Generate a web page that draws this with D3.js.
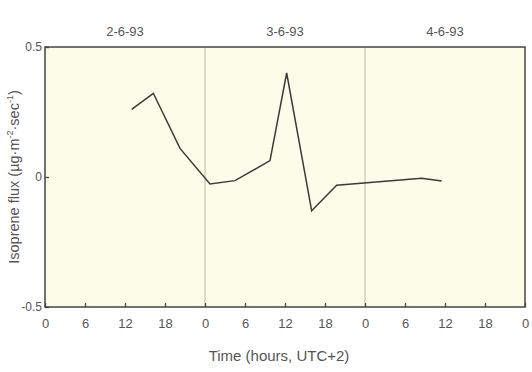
<!DOCTYPE html>
<html>
<head>
<meta charset="utf-8">
<script src="https://cdn.jsdelivr.net/npm/d3@7"></script>
<style>
  body { margin: 0; background: #fff; }
  svg text { font-family: "Liberation Sans", Arial, sans-serif; fill: #555; }
</style>
</head>
<body>
<div id="chart"></div>
<script>
// chart data
var hours = [13, 16.25, 20.25, 24.75, 28.5, 33.75, 36.25, 40, 43.75, 56.5, 59.5];
var flux = [0.26, 0.322, 0.11, -0.027, -0.014, 0.063, 0.40, -0.13, -0.032, -0.005, -0.015];
var dayLabels = ["2-6-93", "3-6-93", "4-6-93"];
var xTicks = [0, 6, 12, 18, 24, 30, 36, 42, 48, 54, 60, 66, 72];
var yTicks = [-0.5, 0, 0.5];

var svgWidth = 532;
var svgHeight = 372;
var margin = { top: 47, right: 7, bottom: 65, left: 45 };
var width = svgWidth - margin.left - margin.right;
var height = svgHeight - margin.top - margin.bottom;

var svg = d3.select("#chart")
  .append("svg")
  .attr("width", svgWidth)
  .attr("height", svgHeight);

var chartGroup = svg.append("g")
  .attr("transform", `translate(${margin.left}, ${margin.top})`);

var xScale = d3.scaleLinear().domain([0, 72]).range([0, width]);
var yScale = d3.scaleLinear().domain([-0.5, 0.5]).range([height, 0]);

// plot background
chartGroup.append("rect")
  .attr("width", width)
  .attr("height", height)
  .attr("fill", "#fbfde8");

// day separators
chartGroup.selectAll(".daySep")
  .data([24, 48])
  .enter()
  .append("line")
  .attr("x1", d => xScale(d))
  .attr("x2", d => xScale(d))
  .attr("y1", 0)
  .attr("y2", height)
  .attr("stroke", "#b9b99c")
  .attr("stroke-width", 1);

// day labels
chartGroup.selectAll(".dayLabel")
  .data(dayLabels)
  .enter()
  .append("text")
  .attr("x", (d, i) => xScale(i * 24 + 12))
  .attr("y", -11)
  .attr("text-anchor", "middle")
  .style("font-size", "13px")
  .text(d => d);

// x axis
var bottomAxis = d3.axisBottom(xScale)
  .tickValues(xTicks)
  .tickSize(-4)
  .tickPadding(12)
  .tickFormat(d => d % 24);
var xAxis = chartGroup.append("g")
  .attr("transform", `translate(0, ${height})`)
  .call(bottomAxis);
xAxis.select(".domain").remove();
xAxis.selectAll("line").attr("stroke", "#444").attr("stroke-width", 1.3);
xAxis.selectAll("text").style("font-size", "13px").attr("fill", "#555");

// y axis
var leftAxis = d3.axisLeft(yScale)
  .tickValues(yTicks)
  .tickSize(-4)
  .tickPadding(3)
  .tickFormat(d => d === 0 ? "0" : d);
var yAxis = chartGroup.append("g").call(leftAxis);
yAxis.select(".domain").remove();
yAxis.selectAll("line").attr("stroke", "#444").attr("stroke-width", 1.3);
yAxis.selectAll("text").style("font-size", "12px").attr("fill", "#555");

// frame
chartGroup.append("rect")
  .attr("width", width)
  .attr("height", height)
  .attr("fill", "none")
  .attr("stroke", "#444")
  .attr("stroke-width", 1.5);

// flux line
var line = d3.line()
  .x(d => xScale(d[0]))
  .y(d => yScale(d[1]));
chartGroup.append("path")
  .datum(hours.map((h, i) => [h, flux[i]]))
  .attr("d", line)
  .attr("fill", "none")
  .attr("stroke", "#3a3a3a")
  .attr("stroke-width", 1.5);

// axis titles
chartGroup.append("text")
  .attr("x", xScale(36) - 6)
  .attr("y", height + 54)
  .attr("text-anchor", "middle")
  .style("font-size", "15px")
  .text("Time (hours, UTC+2)");

var yTitle = chartGroup.append("text")
  .attr("transform", `translate(-26, ${height / 2}) rotate(-90)`)
  .attr("text-anchor", "middle")
  .style("font-size", "14.5px");
yTitle.append("tspan").text("Isoprene flux (µg·m");
yTitle.append("tspan").attr("dy", -6).style("font-size", "9px").text("-2");
yTitle.append("tspan").attr("dy", 6).text("·sec");
yTitle.append("tspan").attr("dy", -6).style("font-size", "9px").text("-1");
yTitle.append("tspan").attr("dy", 6).text(")");
</script>
</body>
</html>
